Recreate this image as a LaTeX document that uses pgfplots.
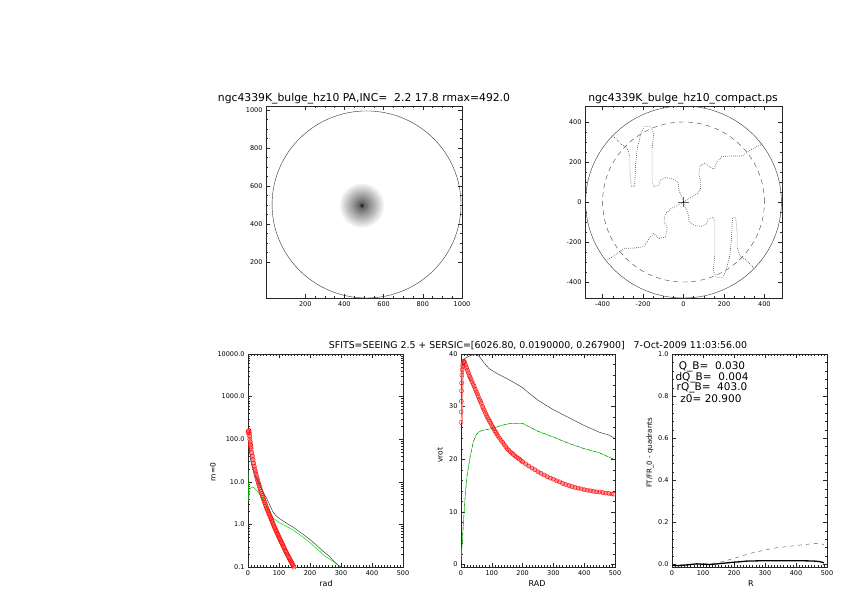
\documentclass[border=0pt]{standalone}
\usepackage{fontspec}
\setmainfont{DejaVu Sans}
\usepackage{pgfplots}
\pgfplotsset{compat=1.18}
\definecolor{idlgreen}{RGB}{0,225,0}
\pgfplotsset{
 idl/.style={
  scale only axis, anchor=south west,
  tick align=inside,
  major tick length=4pt, minor tick length=2pt,
  axis line style={line width=0.4pt, black!85},
  every tick/.append style={line width=0.3pt, black!85},
  tick label style={font=\fontsize{6.5}{7}\selectfont},
  /pgf/number format/assume math mode=true,
  /pgf/number format/1000 sep={},
 },
 blob/.style={only marks, mark=*, color=black, draw opacity=0, fill opacity=#1,
   mark options={draw opacity=0, fill opacity=#1, line width=0pt}},
}
\pgfplotstableread{
x y
0 141
1 150
2 157
3 158
4 140
5 118
6 100
7 87
8 76
9 67
10 60
12 48
14 40
16 33
18 27.5
20 22.9
22 19.7
24 17
26 14.8
28 13
30 11.5
32 10.2
34 9.1
36 8.2
38 7.3
40 6.5
42 5.85
44 5.3
46 4.75
48 4.3
50 3.9
52 3.55
54 3.25
56 2.95
58 2.7
60 2.45
62 2.26
64 2.08
66 1.92
68 1.76
70 1.63
72 1.5
74 1.38
76 1.27
78 1.17
80 1.07
82 0.99
84 0.91
86 0.84
88 0.78
90 0.72
92 0.67
94 0.62
96 0.58
98 0.54
100 0.50
102 0.467
104 0.435
106 0.407
108 0.38
110 0.355
112 0.33
114 0.307
116 0.285
118 0.265
120 0.245
122 0.23
124 0.215
126 0.202
128 0.19
130 0.178
132 0.166
134 0.156
136 0.146
138 0.137
140 0.129
142 0.121
144 0.114
146 0.107
148 0.10
150 0.094
152 0.088
156 0.078
}\redlog
\pgfplotstableread{
x y
0 27
0.5 29
1 31
1.5 33
2 34.5
3 36
4 37
5 37.7
6 38.2
8 38.6
10 38.6
12 38.4
15 37.9
18 37.4
21 36.9
24 36.4
27 35.9
30 35.5
33 35.1
36 34.7
40 34.2
43 33.8
46 33.3
50 32.8
53 32.4
56 31.9
60 31.4
63 31.0
66 30.6
70 30.0
73 29.6
76 29.2
80 28.7
83 28.3
86 27.9
90 27.5
93 27.2
96 26.9
100 26.4
103 26.1
106 25.8
110 25.4
113 25.1
116 24.8
120 24.4
125 24.0
130 23.6
135 23.2
140 22.8
145 22.4
150 22.0
155 21.7
160 21.4
165 21.15
170 20.9
175 20.65
180 20.4
185 20.2
190 20.0
195 19.75
200 19.5
210 19.1
220 18.7
230 18.3
240 18.0
250 17.6
260 17.3
270 17.0
280 16.7
290 16.4
300 16.2
310 15.9
320 15.7
330 15.4
340 15.2
350 15.0
360 14.8
370 14.65
380 14.5
390 14.35
400 14.2
410 14.1
420 14.0
430 13.9
440 13.8
450 13.75
460 13.65
470 13.55
480 13.5
490 13.4
495 13.35
}\redvrot
\begin{document}
\begin{tikzpicture}
\path[use as bounding box] (0pt,0pt) rectangle (842pt,595pt);

% ---------- top left: image ----------
\begin{axis}[idl, at={(266pt,297pt)}, width=196pt, height=192pt,
  xmin=0, xmax=1000, ymin=10, ymax=1020,
  xtick={200,400,600,800,1000}, ytick={200,400,600,800,1000}, minor tick num=3]
\addplot[blob=0.06, mark size=22pt] coordinates {(490,496)};
\addplot[blob=0.06, mark size=20pt] coordinates {(490,496)};
\addplot[blob=0.07, mark size=18pt] coordinates {(490,496)};
\addplot[blob=0.07, mark size=16pt] coordinates {(490,496)};
\addplot[blob=0.08, mark size=14pt] coordinates {(490,496)};
\addplot[blob=0.08, mark size=12pt] coordinates {(490,496)};
\addplot[blob=0.09, mark size=10pt] coordinates {(490,496)};
\addplot[blob=0.10, mark size=8pt] coordinates {(490,496)};
\addplot[blob=0.12, mark size=6pt] coordinates {(490,496)};
\addplot[blob=0.15, mark size=4pt] coordinates {(490,496)};
\addplot[blob=0.25, mark size=2.5pt] coordinates {(490,496)};
\addplot[blob=1, mark size=1pt] coordinates {(490,496)};
\draw[black!80, line width=0.4pt] (axis cs:513,502) ellipse [x radius=482, y radius=492];
\end{axis}

% ---------- top right: phases ----------
\begin{axis}[idl, at={(585pt,297pt)}, width=197pt, height=192pt,
  xmin=-487, xmax=487, ymin=-480, ymax=480,
  xtick={-400,-200,0,200,400}, ytick={-400,-200,0,200,400}, minor tick num=3]
\draw[black!80, line width=0.4pt] (axis cs:0,0) ellipse [x radius=484, y radius=480];
\draw[black!75, line width=0.4pt, dash pattern=on 5pt off 4pt] (axis cs:0,0) ellipse [x radius=400, y radius=400];
\addplot[black, line width=0.6pt, dash pattern=on 0.5pt off 1.5pt] coordinates {
(0,0)(-10,30)(-23,60)(-28,101)(-56,118)(-89,122)(-114,110)(-122,85)(-147,77)(-155,102)(-155,185)(-155,268)(-147,343)(-163,377)(-196,377)(-212,335)(-229,268)(-237,185)(-242,77)(-258,77)(-265,152)(-265,227)(-278,268)(-303,285)(-336,318)(-352,335)};
\addplot[black, line width=0.6pt, dash pattern=on 0.5pt off 1.5pt] coordinates {
(0,0)(10,-30)(23,-60)(28,-101)(56,-118)(89,-122)(114,-110)(122,-85)(147,-77)(155,-102)(155,-185)(155,-268)(147,-343)(163,-377)(196,-377)(212,-335)(229,-268)(237,-185)(242,-77)(258,-77)(265,-152)(265,-227)(278,-268)(303,-285)(336,-318)(352,-335)};
\addplot[black, line width=0.6pt, dash pattern=on 0.5pt off 1.5pt] coordinates {
(0,0)(20,12)(40,25)(66,40)(84,62)(85,100)(76,140)(82,180)(105,195)(132,175)(150,165)(166,200)(190,228)(232,230)(290,230)(320,252)(364,277)(392,292)};
\addplot[black, line width=0.6pt, dash pattern=on 0.5pt off 1.5pt] coordinates {
(0,0)(-31,-18)(-64,-35)(-90,-60)(-97,-98)(-80,-130)(-89,-175)(-122,-182)(-147,-157)(-165,-175)(-196,-223)(-240,-230)(-295,-232)(-327,-257)(-377,-290)};
\addplot[black!60, line width=0.25pt] coordinates {(-25,0)(25,0)};
\addplot[black!60, line width=0.25pt] coordinates {(0,-25)(0,25)};
\addplot[only marks, mark=*, mark size=0.7pt, black] coordinates {(0,0)};
\end{axis}

% ---------- bottom left: m=0 ----------
\begin{axis}[idl, at={(248pt,28pt)}, width=155pt, height=213pt,
  xmin=0, xmax=500, ymode=log, ymin=0.1, ymax=10000,
  xtick={0,100,200,300,400,500}, minor x tick num=9,
  ytick={0.1,1,10,100,1000,10000},
  yticklabels={0.1,1.0,10.0,100.0,1000.0,10000.0},
  minor ytick={0.2,0.3,0.4,0.5,0.6,0.7,0.8,0.9,2,3,4,5,6,7,8,9,20,30,40,50,60,70,80,90,200,300,400,500,600,700,800,900,2000,3000,4000,5000,6000,7000,8000,9000}]
\addplot[red!40, line width=4pt] table {\redlog};
\addplot[red, only marks, mark=o, mark size=2.2pt, mark options={line width=0.35pt}] table {\redlog};
\addplot[idlgreen, line width=0.5pt] coordinates {
(0,18)(1,8)(2,3.6)(4,5)(7,7)(12,7.5)(18,7.4)(25,6.6)(33,5.7)(40,4.8)(50,3.7)(60,2.6)(70,1.9)(78,1.5)(87,1.3)(98,1.13)(110,1.02)(130,0.85)(146,0.74)(162,0.6)(178,0.5)(195,0.4)(210,0.32)(227,0.25)(248,0.18)(260,0.16)(275,0.135)(291,0.11)(300,0.1)(305,0.09)};
\addplot[black!80, line width=0.45pt] coordinates {
(0,90)(2,75)(4,60)(7,40)(10,28)(14,22)(17,19)(20,16.5)(25,13)(30,11)(35,9.3)(40,7.9)(50,5.6)(60,4.1)(70,2.9)(80,2.0)(90,1.6)(100,1.4)(110,1.25)(120,1.12)(130,1.0)(145,0.87)(160,0.72)(180,0.57)(200,0.44)(210,0.38)(222,0.32)(235,0.26)(250,0.21)(260,0.185)(265,0.17)(275,0.14)(285,0.12)(295,0.105)(305,0.093)};
\end{axis}

% ---------- bottom middle: vrot ----------
\begin{axis}[idl, at={(461pt,28pt)}, width=154pt, height=213pt,
  xmin=0, xmax=500, ymin=-0.5, ymax=40,
  xtick={0,100,200,300,400,500}, minor x tick num=9,
  ytick={0,10,20,30,40}, minor y tick num=4]
\addplot[red!40, line width=3.5pt] table {\redvrot};
\addplot[red, only marks, mark=o, mark size=2.1pt, mark options={line width=0.35pt}] table {\redvrot};
\addplot[black!80, line width=0.45pt] coordinates {
(0,28)(3,37.5)(8,39.0)(20,39.4)(30,39.7)(45,40.0)(60,39.5)(75,38.3)(90,37.3)(100,36.9)(120,36.2)(150,35.3)(180,34.3)(200,33.6)(220,32.6)(250,31.2)(300,29.4)(350,27.9)(400,26.4)(450,25.1)(480,24.6)(495,24.1)};
\addplot[idlgreen, line width=0.5pt] coordinates {
(0,0.8)(5,5)(10,10)(15,14)(20,17)(30,20.6)(40,23.3)(50,24.7)(60,25.3)(80,25.6)(100,25.8)(130,26.4)(160,26.8)(200,26.8)(250,25.3)(300,24.2)(350,23.0)(400,22.0)(450,21.2)(495,20.0)};
\addplot[black!70, line width=0.3pt, dash pattern=on 3pt off 3pt] coordinates {
(0,0.8)(5,5)(10,10)(15,14)(20,17)(30,20.6)(40,23.3)(50,24.7)(60,25.3)(80,25.6)(100,25.8)(130,26.4)(160,26.8)(200,26.8)(250,25.3)(300,24.2)(350,23.0)(400,22.0)(450,21.2)(495,20.0)};
\end{axis}

% ---------- bottom right: FT/FR ----------
\begin{axis}[idl, at={(672pt,28pt)}, width=155pt, height=213pt,
  xmin=0, xmax=500, ymin=-0.012, ymax=1,
  xtick={0,100,200,300,400,500}, minor x tick num=9,
  ytick={0,0.2,0.4,0.6,0.8,1}, yticklabels={0.0,0.2,0.4,0.6,0.8,1.0}, minor y tick num=4]
\addplot[black!70, line width=0.4pt, dash pattern=on 4pt off 4pt] coordinates {
(0,-0.005)(60,0.0)(100,0.002)(130,0.005)(160,0.012)(190,0.025)(220,0.038)(250,0.052)(280,0.062)(310,0.072)(340,0.08)(370,0.085)(400,0.09)(430,0.095)(460,0.1)(475,0.1)(490,0.095)};
\addplot[black, line width=1.3pt] coordinates {
(0,-0.005)(20,-0.005)(40,-0.003)(60,0.0)(80,0.003)(100,0.001)(120,0.0)(140,0.002)(160,0.005)(180,0.008)(200,0.011)(220,0.013)(240,0.016)(270,0.017)(300,0.018)(350,0.018)(400,0.018)(440,0.017)(460,0.016)(475,0.014)(490,0.008)};
\end{axis}

% ---------- texts ----------
\node[font=\fontsize{10.8}{12}\selectfont] at (364pt,496pt) {ngc4339K\_bulge\_hz10 PA,INC=\ \ 2.2 17.8 rmax=492.0};
\node[font=\fontsize{10.8}{12}\selectfont] at (683pt,496pt) {ngc4339K\_bulge\_hz10\_compact.ps};
\node[font=\fontsize{9.4}{11}\selectfont] at (538pt,249pt) {SFITS=SEEING 2.5 + SERSIC=[6026.80, 0.0190000, 0.267900]\ \ \ 7-Oct-2009 11:03:56.00};
\node[font=\fontsize{10.5}{12}\selectfont] at (712pt,228pt) {Q\_B=\ \ 0.030};
\node[font=\fontsize{10.5}{12}\selectfont] at (712pt,217.3pt) {dQ\_B=\ \ 0.004};
\node[font=\fontsize{10.5}{12}\selectfont] at (712pt,207.3pt) {rQ\_B=\ \ 403.0};
\node[font=\fontsize{10.5}{12}\selectfont] at (711pt,196.7pt) {z0=\ 20.900};
\node[font=\fontsize{7.5}{9}\selectfont, rotate=90] at (213pt,123pt) {m=0};
\node[font=\fontsize{7.5}{9}\selectfont, rotate=90] at (440pt,140pt) {vrot};
\node[font=\fontsize{7}{9}\selectfont, rotate=90] at (650pt,142pt) {FT/FR\_0 - quadrants};
\node[font=\fontsize{8}{9}\selectfont] at (326pt,11.7pt) {rad};
\node[font=\fontsize{8}{9}\selectfont] at (537pt,11.7pt) {RAD};
\node[font=\fontsize{8}{9}\selectfont] at (751pt,11.7pt) {R};
\end{tikzpicture}
\end{document}
